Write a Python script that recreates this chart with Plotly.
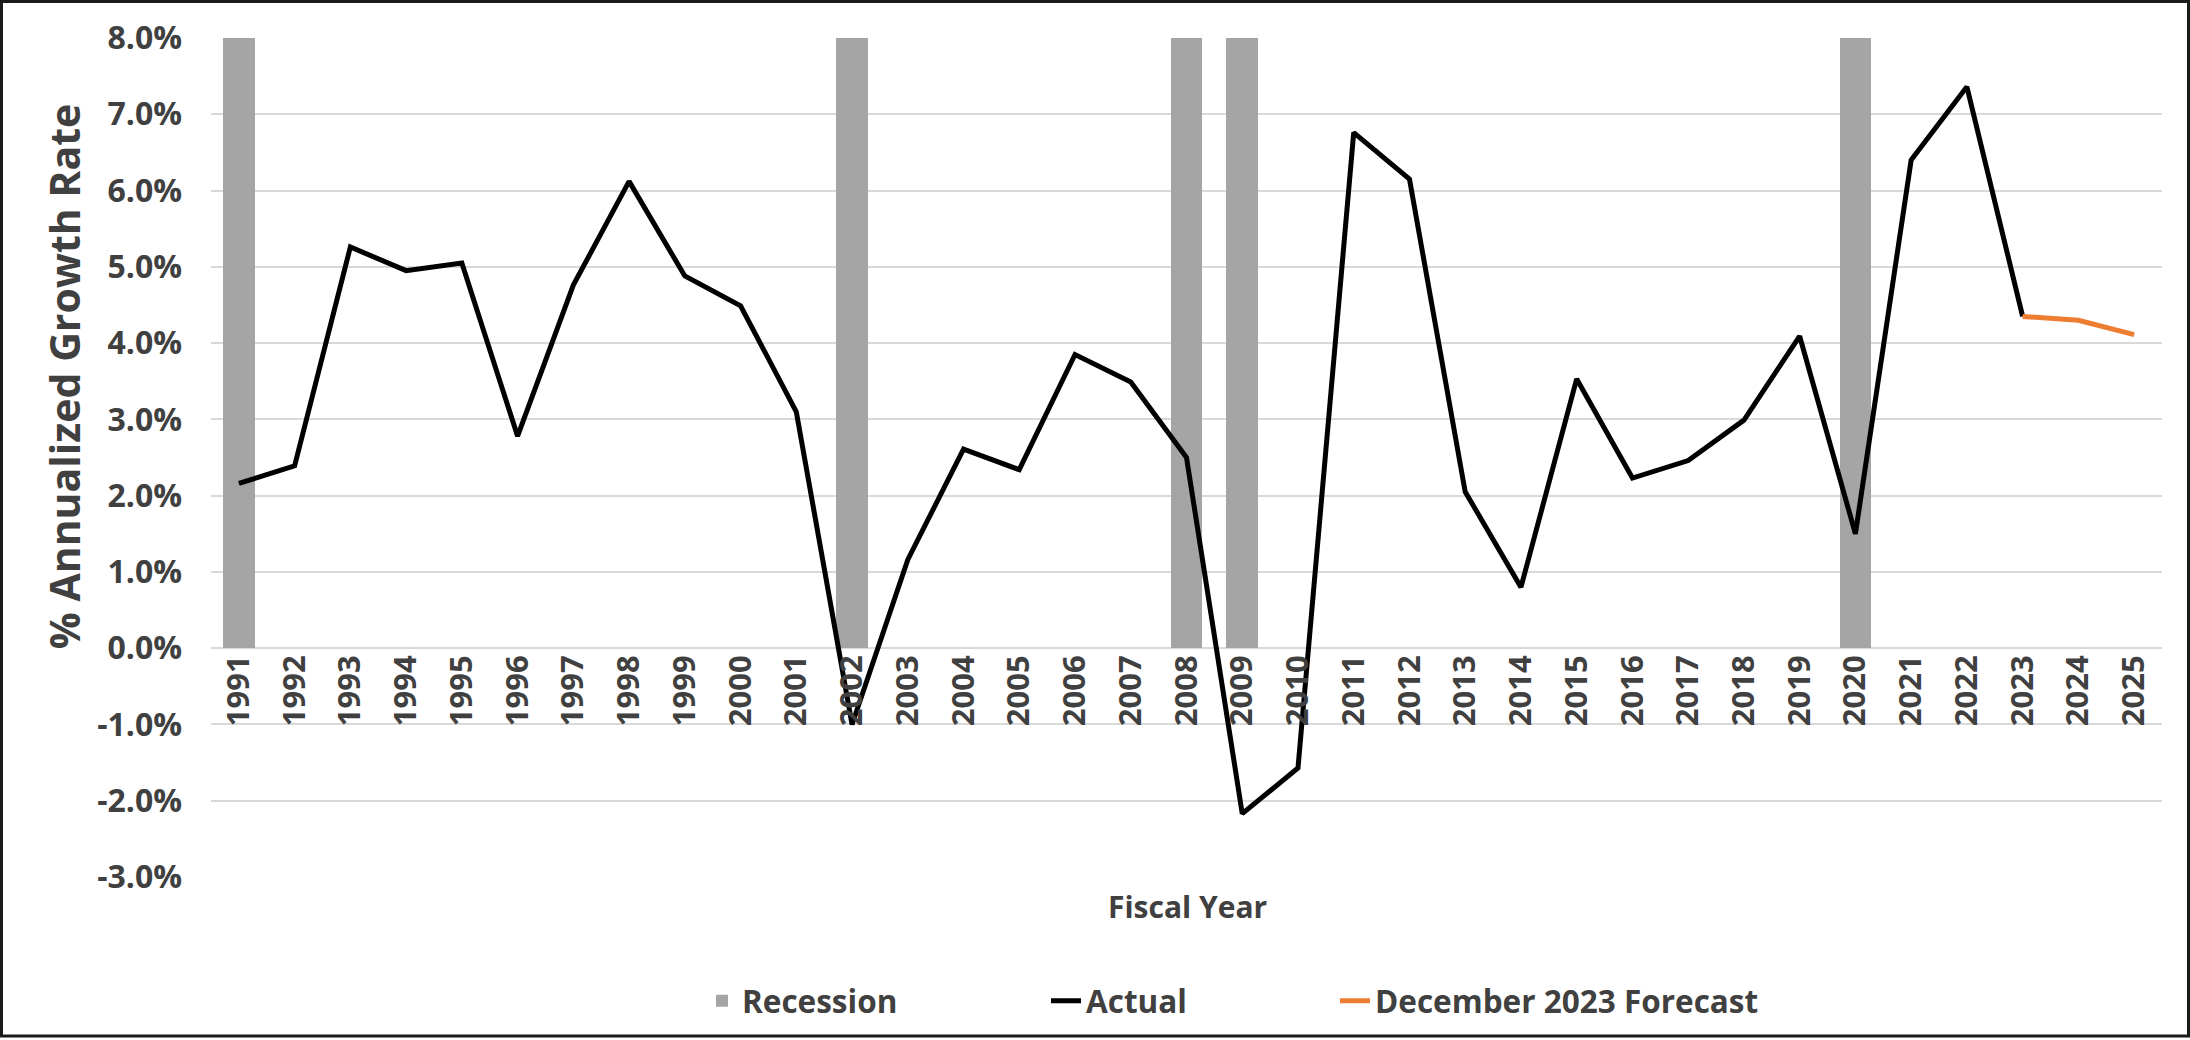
import plotly.graph_objects as go

years = list(range(1991, 2026))
actual_years = list(range(1991, 2024))
actual_values = [2.16, 2.39, 5.26, 4.95, 5.05, 2.78, 4.76, 6.12, 4.88, 4.49,
                 3.10, -1.00, 1.16, 2.61, 2.34, 3.85, 3.49, 2.50, -2.17, -1.57,
                 6.76, 6.15, 2.05, 0.80, 3.53, 2.23, 2.46, 2.99, 4.09, 1.50,
                 6.40, 7.36, 4.35]
forecast_years = [2023, 2024, 2025]
forecast_values = [4.35, 4.30, 4.11]
recession_years = [1991, 2002, 2008, 2009, 2020]
recession_values = [8.0, 8.0, 8.0, 8.0, 8.0]
y_ticks = [-3, -2, -1, 0, 1, 2, 3, 4, 5, 6, 7, 8]

W, H = 2190, 1040
ML, MR, MT, MB = 211, 28, 38, 161
PW, PH = W - ML - MR, H - MT - MB
YMIN, YMAX = -3.0, 8.0

TXT = "#404040"
FONT = "Open Sans, sans-serif"


def px_x(p):
    return (p - ML) / PW


def px_y(p):
    return (H - MB - p) / PH


legend_font = dict(family=FONT, size=31.5, color=TXT, weight="bold")
LEG_Y = px_y(1003)

fig = go.Figure()
fig.add_trace(go.Bar(x=recession_years, y=recession_values, name="Recession",
                     marker=dict(color="#A5A5A5", line=dict(width=0)), width=0.57,
                     legend="legend"))
fig.add_trace(go.Scatter(x=actual_years, y=actual_values, name="Actual", mode="lines",
                         line=dict(color="#000000", width=5), legend="legend2"))
fig.add_trace(go.Scatter(x=forecast_years, y=forecast_values, name="December 2023 Forecast",
                         mode="lines", line=dict(color="#ED7D31", width=5), legend="legend3"))

leg_common = dict(orientation="h", xanchor="left", yanchor="middle", y=LEG_Y,
                  font=legend_font, bgcolor="rgba(0,0,0,0)", borderwidth=0)

fig.update_layout(
    width=W, height=H,
    margin=dict(l=ML, r=MR, t=MT, b=MB, pad=0),
    paper_bgcolor="white", plot_bgcolor="white",
    showlegend=True,
    legend=dict(x=px_x(702), **leg_common),
    legend2=dict(x=px_x(1046), **leg_common),
    legend3=dict(x=px_x(1335), **leg_common),
    xaxis=dict(range=[1990.5, 2025.5], tickmode="array", tickvals=years,
               ticktext=[str(y) for y in years], tickangle=-90,
               anchor="free", position=(0 - YMIN) / (YMAX - YMIN),
               showgrid=False, showline=False, zeroline=False, ticks="",
               tickfont=dict(family=FONT, size=31, color=TXT, weight="bold")),
    yaxis=dict(range=[YMIN, YMAX], tickmode="array", tickvals=y_ticks,
               ticktext=[f"{v:.1f}%" for v in y_ticks],
               showgrid=True, gridcolor="#D9D9D9", gridwidth=2, zeroline=False,
               showline=False, ticks="", ticklabelstandoff=28,
               tickfont=dict(family=FONT, size=32, color=TXT, weight="bold")),
    bargap=0,
)

fig.add_annotation(text="Fiscal Year", xref="paper", yref="paper",
                   x=px_x(1187), y=px_y(909), showarrow=False,
                   xanchor="center", yanchor="middle",
                   font=dict(family=FONT, size=30, color=TXT, weight="bold"))
fig.add_annotation(text="% Annualized Growth Rate", xref="paper", yref="paper",
                   x=px_x(64), y=px_y(378), showarrow=False,
                   textangle=-90, xanchor="center", yanchor="middle",
                   font=dict(family=FONT, size=41, color=TXT, weight="bold"))

# outer chart border
fig.add_shape(type="rect", xref="paper", yref="paper",
              x0=px_x(1.5), x1=px_x(W - 1.5),
              y0=px_y(H - 1.5), y1=px_y(1.5),
              line=dict(color="#1a1a1a", width=3), fillcolor="rgba(0,0,0,0)", layer="above")

fig.write_html("out.html", config={"displayModeBar": False},
               post_script="document.body.style.margin='0';")
